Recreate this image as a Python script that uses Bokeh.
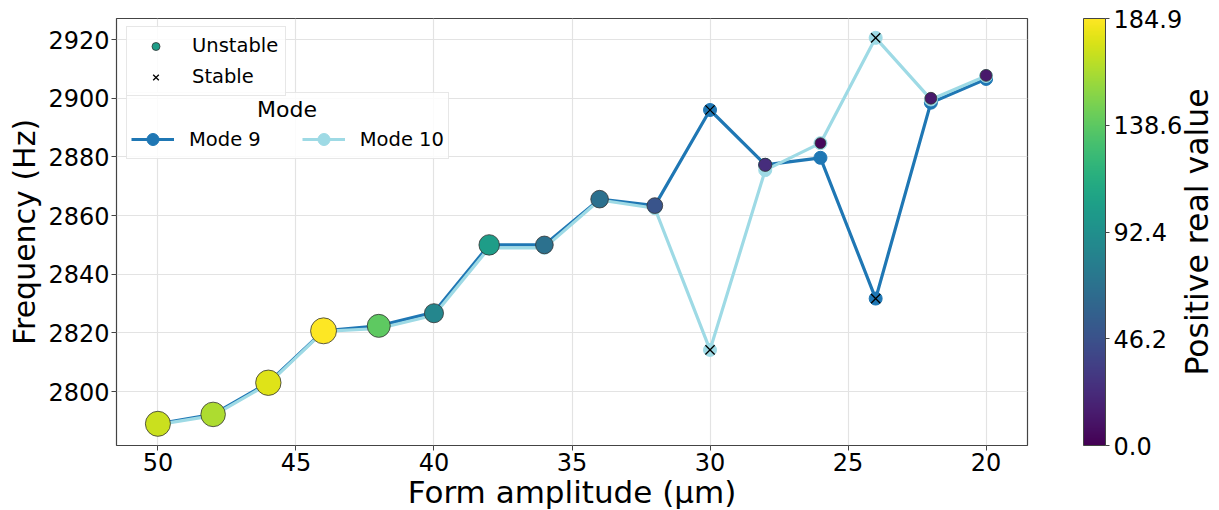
import math
from bokeh.plotting import figure
from bokeh.models import (Range1d, FixedTicker, Legend, LegendItem, ColumnDataSource,
                          LinearColorMapper, ColorBar, Label)
from bokeh.palettes import Viridis256
from bokeh.transform import linear_cmap
from bokeh.layouts import row
from bokeh.embed import file_html
from bokeh.resources import INLINE

# ---------------- data ----------------
amplitude = [50, 48, 46, 44, 42, 40, 38, 36, 34, 32, 30, 28, 26, 24, 22, 20]
mode9_freq = [2789.0, 2792.2, 2803.0, 2820.7, 2822.4, 2827.0, 2850.0, 2850.0,
              2865.6, 2863.4, 2896.0, 2877.3, 2879.7, 2831.7, 2898.5, 2906.6]
mode10_freq = [2788.7, 2791.8, 2802.6, 2820.5, 2821.5, 2826.0, 2849.0, 2849.0,
               2865.3, 2862.5, 2814.2, 2875.5, 2884.7, 2920.6, 2899.6, 2907.6]

unstable_amp = [50, 48, 46, 44, 42, 40, 38, 36, 34, 32, 28, 26, 22, 20]
unstable_freq = [2789.0, 2792.2, 2803.0, 2820.7, 2822.4, 2826.7, 2850.0, 2850.0,
                 2865.6, 2863.4, 2877.3, 2884.7, 2900.0, 2907.8]
unstable_real = [170, 162, 176, 184.9, 139, 85, 103, 69, 68, 48, 24, 5, 13, 13]

stable_amp = [30, 30, 24, 24]
stable_freq = [2896.0, 2814.2, 2831.7, 2920.6]

x_ticks = [50, 45, 40, 35, 30, 25, 20]
y_ticks = [2800, 2820, 2840, 2860, 2880, 2900, 2920]
cbar_max = 184.9
cbar_ticks = [0.0, 46.2, 92.4, 138.6, 184.9]
cbar_labels = ["0.0", "46.2", "92.4", "138.6", "184.9"]

mode_names = ["Mode 9", "Mode 10"]
mode_colors = ["#1f77b4", "#9edae5"]

FONT = "DejaVu Sans"

# ---------------- main figure ----------------
p = figure(frame_width=911, frame_height=427,
           x_range=Range1d(51.5, 18.5), y_range=Range1d(2781.6, 2927.2),
           output_backend="svg", toolbar_location=None,
           min_border_left=116, min_border_right=20,
           min_border_top=18, min_border_bottom=65)
p.background_fill_color = "white"
p.border_fill_color = "white"
p.outline_line_color = "#444444"
p.outline_line_width = 1.2

for ax in (p.xaxis[0], p.yaxis[0]):
    ax.axis_line_color = None
    ax.major_tick_line_color = "#444444"
    ax.major_tick_out = 5
    ax.major_tick_in = 0
    ax.minor_tick_line_color = None
    ax.major_label_text_font = FONT
    ax.major_label_text_font_size = "24px"
    ax.major_label_text_color = "black"
    ax.axis_label_text_font = FONT
    ax.axis_label_text_font_style = "normal"
    ax.axis_label_text_color = "black"
    ax.major_label_standoff = 2

p.xaxis.ticker = FixedTicker(ticks=x_ticks)
p.yaxis.ticker = FixedTicker(ticks=y_ticks)
p.xaxis.axis_label = "Form amplitude (µm)"
p.yaxis.axis_label = "Frequency (Hz)"
p.xaxis.axis_label_text_font_size = "31px"
p.yaxis.axis_label_text_font_size = "30px"
p.xaxis.axis_label_standoff = 0
p.yaxis.axis_label_standoff = 3

p.grid.grid_line_color = "#e3e3e3"
p.grid.grid_line_width = 1.2

r9_line = p.line(amplitude, mode9_freq, line_color=mode_colors[0], line_width=3.2)
r9_pts = p.scatter(amplitude, mode9_freq, size=13, fill_color=mode_colors[0],
                   line_color=mode_colors[0])
r10_line = p.line(amplitude, mode10_freq, line_color=mode_colors[1], line_width=3.2)
r10_pts = p.scatter(amplitude, mode10_freq, size=13, fill_color=mode_colors[1],
                    line_color=mode_colors[1])

src_u = ColumnDataSource(dict(
    x=unstable_amp, y=unstable_freq, v=unstable_real,
    s=[math.sqrt(100 + 3.1 * v) for v in unstable_real]))
r_unstable = p.scatter("x", "y", size="s", source=src_u,
                       fill_color=linear_cmap("v", Viridis256, 0, cbar_max),
                       line_color="#333333", line_width=0.8)

r_stable = p.scatter(stable_amp, stable_freq, marker="x", size=13,
                     line_color="black", line_width=1.3)

leg1 = Legend(items=[LegendItem(label="Unstable", renderers=[r_unstable], index=6),
                     LegendItem(label="Stable", renderers=[r_stable], index=0)],
              location=(10, 349), margin=0, padding=7, spacing=8,
              glyph_width=43, glyph_height=20, label_height=20,
              label_standoff=15,
              label_text_font=FONT, label_text_font_size="19.5px",
              label_text_color="black",
              border_line_color="#d0d0d0", border_line_width=1,
              background_fill_alpha=0.85)

# title centred over the two entries (figure spaces shift it right)
leg2 = Legend(items=[LegendItem(label=mode_names[0], renderers=[r9_line, r9_pts]),
                     LegendItem(label=mode_names[1], renderers=[r10_line, r10_pts])],
              location=(10, 286), margin=0, padding=4, spacing=41,
              orientation="horizontal",
              title="\u2007" * 9 + "Mode", title_text_font=FONT,
              title_text_font_size="22px", title_text_color="black",
              title_text_font_style="normal", title_standoff=2,
              glyph_width=43, glyph_height=30, label_height=20,
              label_standoff=15,
              label_text_font=FONT, label_text_font_size="19.5px",
              label_text_color="black",
              border_line_color="#d0d0d0", border_line_width=1,
              background_fill_alpha=0.85)
p.add_layout(leg2)
p.add_layout(leg1)

# ---------------- colour bar panel ----------------
cb = figure(frame_width=172, frame_height=427,
            x_range=Range1d(0, 1), y_range=Range1d(0, 1),
            output_backend="svg", toolbar_location=None,
            x_axis_location=None, y_axis_location=None,
            min_border_left=0, min_border_right=0,
            min_border_top=18, min_border_bottom=65)
cb.grid.visible = False
cb.outline_line_color = None
cb.background_fill_color = "white"

mapper = LinearColorMapper(palette=Viridis256, low=0, high=cbar_max)
colorbar = ColorBar(color_mapper=mapper, orientation="vertical",
                    location=(36, 0), width=22, height=427,
                    padding=0, margin=0,
                    ticker=FixedTicker(ticks=cbar_ticks),
                    major_label_overrides={t: l for t, l in zip(cbar_ticks, cbar_labels)},
                    major_label_text_font=FONT, major_label_text_font_size="24px",
                    major_label_text_color="black",
                    major_tick_in=0, major_tick_out=4,
                    major_tick_line_color="#444444",
                    minor_tick_line_color=None,
                    label_standoff=4,
                    bar_line_color="#444444", bar_line_width=1,
                    border_line_color=None, background_fill_color=None)
cb.add_layout(colorbar)
cb.add_layout(Label(x=149, y=213.5, x_units="screen", y_units="screen",
                    text="Positive real value", angle=math.pi / 2,
                    text_font=FONT, text_font_size="31.5px", text_color="black",
                    text_align="center", text_baseline="alphabetic"))

layout = row(p, cb)
open("out.html", "w").write(file_html(layout, INLINE))
